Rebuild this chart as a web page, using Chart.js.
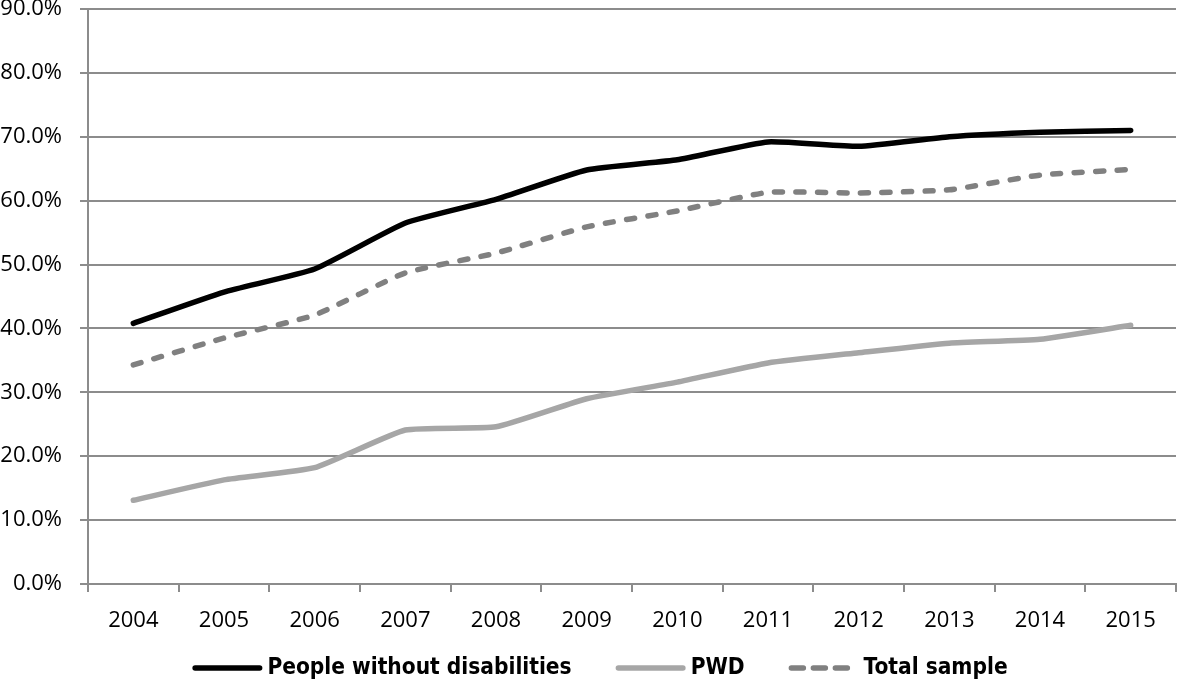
<!DOCTYPE html>
<html>
<head>
<meta charset="utf-8">
<script src="https://cdn.jsdelivr.net/npm/chart.js@4/dist/chart.umd.min.js"></script>
<style>
html,body{margin:0;padding:0;background:#fff;}
#wrap{width:1181px;height:686px;position:relative;}
</style>
</head>
<body>
<div id="wrap"><canvas id="c" width="1181" height="686"></canvas></div>
<script>
const years = ['2004','2005','2006','2007','2008','2009','2010','2011','2012','2013','2014','2015'];
const withoutDisabilities = [40.8, 45.7, 49.3, 56.5, 60.2, 64.8, 66.4, 69.2, 68.5, 70.0, 70.7, 71.0];
const pwd = [13.1, 16.3, 18.2, 24.1, 24.6, 29.0, 31.6, 34.6, 36.2, 37.7, 38.3, 40.5];
const totalSample = [34.3, 38.5, 42.1, 48.7, 51.8, 55.9, 58.4, 61.3, 61.2, 61.7, 64.0, 64.9];
const seriesNames = ['People without disabilities', 'PWD', 'Total sample'];

const tickFont = {family: "'Open Sans', sans-serif", size: 22};
const legendFont = "bold 22.5px 'Liberation Sans Narrow', 'DejaVu Sans Condensed', sans-serif";
const gridColor = '#8c8c8c';

const customLegend = {
  id: 'customLegend',
  afterDraw(chart) {
    const ctx = chart.ctx;
    const lineW = 70, gapText = 5, gapItem = 44, cy = 668, centerX = 600;
    ctx.save();
    ctx.font = legendFont;
    const items = chart.data.datasets.map(ds => ({ds, w: ctx.measureText(ds.label).width}));
    const total = items.reduce((a, it) => a + lineW + gapText + it.w, 0) + gapItem * (items.length - 1);
    let x = centerX - total / 2;
    items.forEach(it => {
      ctx.beginPath();
      ctx.lineWidth = it.ds.borderWidth;
      ctx.strokeStyle = it.ds.borderColor;
      ctx.lineCap = 'round';
      ctx.setLineDash(it.ds.borderDash ? [12, 10] : []);
      const hw = it.ds.borderWidth / 2;
      ctx.moveTo(x + hw, cy);
      ctx.lineTo(x + lineW - hw, cy);
      ctx.stroke();
      ctx.setLineDash([]);
      ctx.fillStyle = '#000';
      ctx.textBaseline = 'middle';
      ctx.textAlign = 'left';
      ctx.fillText(it.ds.label, x + lineW + gapText, cy);
      x += lineW + gapText + it.w + gapItem;
    });
    ctx.restore();
  }
};

new Chart(document.getElementById('c'), {
  type: 'line',
  data: {
    labels: years,
    datasets: [
      {label: seriesNames[0], data: withoutDisabilities, borderColor: '#000000', backgroundColor: '#000000', borderWidth: 5.5, pointRadius: 0, tension: 0.15, borderCapStyle: 'round', borderJoinStyle: 'round'},
      {label: seriesNames[1], data: pwd, borderColor: '#a6a6a6', backgroundColor: '#a6a6a6', borderWidth: 5.5, pointRadius: 0, tension: 0.15, borderCapStyle: 'round', borderJoinStyle: 'round'},
      {label: seriesNames[2], data: totalSample, borderColor: '#808080', backgroundColor: '#808080', borderWidth: 5.5, borderDash: [8, 13.5], pointRadius: 0, tension: 0.15, borderCapStyle: 'round', borderJoinStyle: 'round'}
    ]
  },
  plugins: [customLegend],
  options: {
    responsive: false,
    animation: false,
    devicePixelRatio: 1,
    layout: {padding: {top: 9, right: 5, left: 0, bottom: 42}},
    plugins: {
      tooltip: {enabled: false},
      legend: {display: false}
    },
    scales: {
      x: {
        offset: true,
        grid: {display: true, drawOnChartArea: false, offset: true, color: gridColor, lineWidth: 2, tickLength: 8},
        border: {display: true, color: gridColor, width: 2},
        ticks: {color: '#000', font: tickFont, padding: 16, maxRotation: 0, autoSkip: false},
        afterFit: s => { s.height = 60; }
      },
      y: {
        min: 0, max: 90,
        grid: {color: gridColor, lineWidth: 2, tickLength: 8},
        border: {display: true, color: gridColor, width: 2},
        ticks: {stepSize: 10, color: '#000', font: tickFont, padding: 18, callback: v => v.toFixed(1) + '%'},
        afterFit: s => { s.width = 88; s.paddingTop = 0; s.paddingBottom = 0; }
      }
    }
  }
});
</script>
</body>
</html>
